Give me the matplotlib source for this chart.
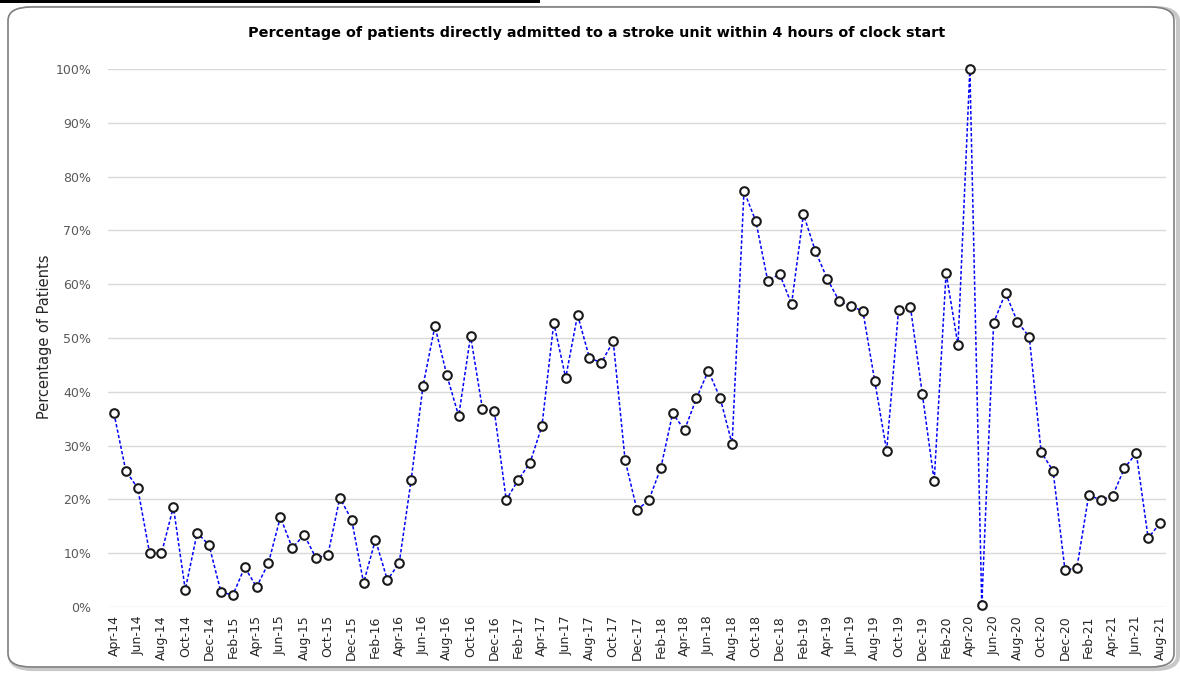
import numpy as np
import matplotlib.pyplot as plt
from matplotlib.patches import FancyBboxPatch, Rectangle
from matplotlib.ticker import PercentFormatter

# monthly share of patients admitted to stroke unit within 4h, Apr-14 .. Aug-21
months = ['Apr', 'May', 'Jun', 'Jul', 'Aug', 'Sep', 'Oct', 'Nov', 'Dec', 'Jan', 'Feb', 'Mar']
labels = []
yr = 14
for i in range(89):
    m = months[i % 12]
    if m == 'Jan':
        yr += 1
    labels.append(m + '-' + str(yr))

pct = [36.0, 25.3, 22.1, 10.0, 10.0, 18.6, 3.2, 13.8, 11.5,
       2.8, 2.2, 7.4, 3.7, 8.2, 16.7, 11.0, 13.4, 9.1, 9.7, 20.3, 16.2,
       4.5, 12.5, 5.0, 8.2, 23.6, 41.1, 52.2, 43.1, 35.5, 50.4, 36.8, 36.4,
       19.9, 23.6, 26.8, 33.6, 52.8, 42.6, 54.3, 46.3, 45.4, 49.4, 27.3, 18.0,
       19.9, 25.8, 36.0, 32.9, 38.8, 43.9, 38.8, 30.3, 77.3, 71.7, 60.6, 61.9,
       56.3, 73.0, 66.2, 61.0, 56.9, 55.9, 55.0, 42.0, 29.0, 55.2, 55.8, 39.6,
       23.4, 62.1, 48.7, 100.0, 0.4, 52.8, 58.4, 53.0, 50.2, 28.8, 25.3, 6.9,
       7.2, 20.8, 19.9, 20.6, 25.8, 28.6, 12.8, 15.6]

W, H = 1180, 675
fig = plt.figure(figsize=(W / 100, H / 100), dpi=100)
fig.patch.set_facecolor('white')

# rounded chart frame with a soft shadow
shadow = FancyBboxPatch((10 / W, 6 / H), 1168 / W, 661 / H,
                        boxstyle='round,pad=0,rounding_size=0.02',
                        transform=fig.transFigure, facecolor='none',
                        edgecolor='#c8c8c8', linewidth=3, zorder=0)
frame = FancyBboxPatch((8 / W, 8 / H), 1166 / W, 660 / H,
                       boxstyle='round,pad=0,rounding_size=0.02',
                       transform=fig.transFigure, facecolor='white',
                       edgecolor='#7f7f7f', linewidth=1.2, zorder=1)
fig.patches.extend([shadow, frame])
fig.patches.append(Rectangle((0, 1 - 3 / H), 540 / W, 3 / H, transform=fig.transFigure,
                             facecolor='black', edgecolor='none', zorder=2))

ax = fig.add_axes([108 / W, 68 / H, 1058 / W, 538 / H])
ax.set_zorder(5)
ax.set_facecolor('none')
x = np.arange(len(pct))
ax.plot(x, pct, color='#0000ff', linestyle=(0, (2.2, 1.4)), linewidth=1.1,
        marker='o', markersize=6.2, markerfacecolor='white',
        markeredgecolor='#1a1a1a', markeredgewidth=1.5, zorder=3, clip_on=False)

ax.set_xlim(-0.5, len(pct) - 0.5)
ax.set_ylim(0, 100)
ax.set_yticks(np.arange(0, 101, 10))
ax.yaxis.set_major_formatter(PercentFormatter(decimals=0))
ax.set_xticks(x[::2])
ax.set_xticklabels(labels[::2], rotation=90, fontsize=9, color='#262626')
ax.tick_params(axis='y', length=0, pad=12, labelsize=9, labelcolor='#595959')
ax.tick_params(axis='x', length=0, pad=6)
ax.grid(axis='y', color='#d9d9d9', linewidth=1)
ax.set_axisbelow(True)
for s in ax.spines.values():
    s.set_visible(False)

fig.text(45 / W, 1 - 337 / H, 'Percentage of Patients', rotation=90,
         ha='center', va='center', fontsize=10.5, color='#262626')
fig.text(597 / W, 1 - 33 / H,
         'Percentage of patients directly admitted to a stroke unit within 4 hours of clock start',
         ha='center', va='center', fontsize=10.4, fontweight='bold', color='black')

fig.savefig('out.png', dpi=100)
